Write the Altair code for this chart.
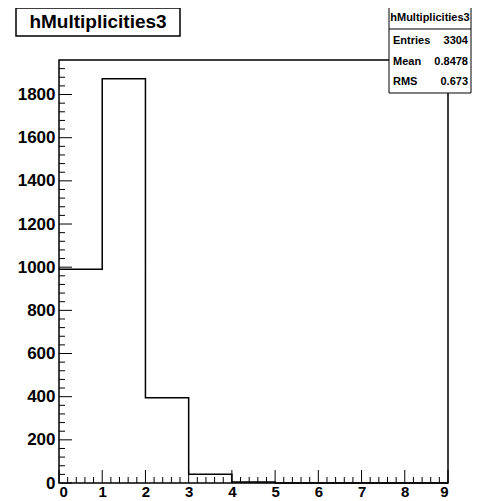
import altair as alt
import pandas as pd

# ---- data ----
bin_edges = [0, 1, 2, 3, 4, 5, 6, 7, 8, 9]
counts = [990, 1873, 395, 40, 5, 0, 0, 0, 0]
x_major = [0, 1, 2, 3, 4, 5, 6, 7, 8, 9]
x_minor = [round(i * 0.2, 1) for i in range(46) if i % 5 != 0]
y_major = [0, 200, 400, 600, 800, 1000, 1200, 1400, 1600, 1800]
y_minor = [i * 40 for i in range(49) if i % 5 != 0]
y_max = 1960
hist_title = "hMultiplicities3"
stats_name = "hMultiplicities3"
stats_labels = ["Entries", "Mean", "RMS"]
stats_values = ["3304", "0.8478", "0.673"]

W, H = 389, 423
FONT = "Liberation Sans"

step = pd.DataFrame({"x": bin_edges, "y": counts + [counts[-1]]})

xs = alt.Scale(domain=[0, 9], nice=False, zero=False)
ys = alt.Scale(domain=[0, y_max], nice=False)

axis_common = dict(grid=False, ticks=False, domain=False, labelFont=FONT,
                   labelFontWeight="bold", labelColor="black", title=None,
                   labelOverlap=False, format="d")

hist = alt.Chart(step).mark_line(interpolate="step-after", color="black",
                                 strokeWidth=1.5).encode(
    x=alt.X("x:Q", scale=xs, axis=alt.Axis(values=x_major, labelFontSize=15,
                                            labelPadding=1, **axis_common)),
    y=alt.Y("y:Q", scale=ys, axis=alt.Axis(values=y_major, labelFontSize=17,
                                            labelPadding=4, **axis_common)),
)

def xticks(vals, length):
    return alt.Chart(pd.DataFrame({"t": vals})).mark_rule(
        color="black", strokeWidth=1).encode(
        x=alt.X("t:Q", scale=xs, axis=None),
        y=alt.value(H), y2=alt.value(H - length))

def yticks(vals, length):
    return alt.Chart(pd.DataFrame({"t": vals})).mark_rule(
        color="black", strokeWidth=1).encode(
        y=alt.Y("t:Q", scale=ys, axis=None),
        x=alt.value(0), x2=alt.value(length))

one = pd.DataFrame({"a": [0]})

title_box = alt.Chart(one).mark_rect(fill="white", stroke="black",
                                     strokeWidth=1.5).encode(
    x=alt.value(-43), x2=alt.value(121), y=alt.value(-52), y2=alt.value(-24))
title_text = alt.Chart(pd.DataFrame({"label": [hist_title]})).mark_text(
    font=FONT, fontSize=19, fontWeight="bold", color="black",
    align="center", baseline="middle").encode(
    text="label:N", x=alt.value(39), y=alt.value(-38))

stats_box = alt.Chart(one).mark_rect(fill="white", stroke="black",
                                     strokeWidth=1).encode(
    x=alt.value(330), x2=alt.value(412), y=alt.value(-53), y2=alt.value(33))
stats_sep = alt.Chart(one).mark_rule(color="black", strokeWidth=1).encode(
    x=alt.value(330), x2=alt.value(412), y=alt.value(-31))
stats_head = alt.Chart(pd.DataFrame({"label": [stats_name]})).mark_text(
    font=FONT, fontSize=11, fontWeight="bold", color="black",
    align="center", baseline="middle").encode(
    text="label:N", x=alt.value(371), y=alt.value(-42))

rows = pd.DataFrame({"label": stats_labels, "value": stats_values,
                     "row": list(range(len(stats_labels)))})
row_scale = alt.Scale(domain=[0, 2], range=[-19, 22])
stats_lab = alt.Chart(rows).mark_text(
    font=FONT, fontSize=11, fontWeight="bold", color="black",
    align="left", baseline="middle").encode(
    text="label:N", x=alt.value(334),
    y=alt.Y("row:Q", scale=row_scale, axis=None))
stats_val = alt.Chart(rows).mark_text(
    font=FONT, fontSize=11, fontWeight="bold", color="black",
    align="right", baseline="middle").encode(
    text="value:N", x=alt.value(409),
    y=alt.Y("row:Q", scale=row_scale, axis=None))

chart = alt.layer(
    hist,
    xticks(x_major, 13), xticks(x_minor, 6),
    yticks(y_major, 13), yticks(y_minor, 6),
    title_box, title_text,
    stats_box, stats_sep, stats_head, stats_lab, stats_val,
).resolve_scale(x="independent", y="independent").resolve_axis(
    x="independent", y="independent").properties(
    width=W, height=H,
    autosize=alt.AutoSizeParams(type="none"),
    padding={"left": 51, "top": 52, "right": 24, "bottom": 18},
    background="white",
).configure_view(stroke="black", strokeWidth=1.5)

chart.save("out.html", embed_options={"renderer": "svg", "actions": False})
